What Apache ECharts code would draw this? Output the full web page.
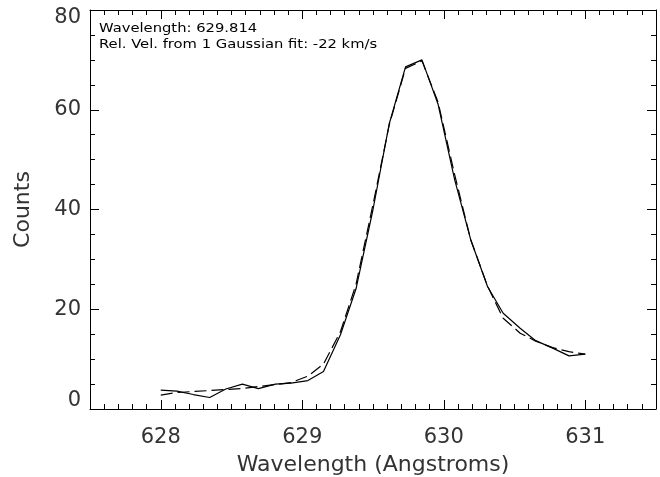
<!DOCTYPE html>
<html>
<head>
<meta charset="utf-8">
<script src="https://cdn.jsdelivr.net/npm/echarts@6/dist/echarts.min.js"></script>
<style>
html,body{margin:0;padding:0;background:#fff;}
#chart{width:660px;height:477px;}
</style>
</head>
<body>
<div id="chart"></div>
<script>
// Wavelength grid (Angstroms)
const wavelengths = [628.00, 628.115, 628.23, 628.346, 628.46, 628.577, 628.69, 628.81, 628.92, 629.04, 629.15, 629.27, 629.38, 629.50, 629.615, 629.73, 629.846, 629.96, 630.077, 630.19, 630.31, 630.42, 630.54, 630.65, 630.77, 630.885, 631.00];
// Observed counts (solid line)
const observedCounts = [3.8, 3.6, 2.9, 2.3, 4.0, 5.0, 4.1, 5.0, 5.2, 5.7, 7.5, 14.9, 24.1, 40.0, 57.2, 68.6, 70.0, 61.1, 46.0, 34.0, 24.5, 19.2, 16.2, 13.7, 12.2, 10.65, 11.0];
// Gaussian fit (dashed line)
const fitCounts = [2.8, 3.3, 3.5, 3.7, 3.9, 4.1, 4.5, 4.9, 5.3, 6.6, 9.0, 15.5, 25.0, 41.0, 57.0, 68.3, 69.8, 61.5, 47.0, 34.0, 24.6, 18.2, 15.2, 13.6, 12.3, 11.5, 11.0];
// Tick labels
const xTickLabels = [628, 629, 630, 631];
const yTickLabels = [0, 20, 40, 60, 80];
const annotationLines = ['Wavelength: 629.814', 'Rel. Vel. from 1 Gaussian fit: -22 km/s'];

const FONT = 'DejaVu Sans';
const TXT = '#333';
const xMin = 627.5, xMax = 631.5;

const chart = echarts.init(document.getElementById('chart'), null, {renderer: 'canvas'});

function pairs(xs, ys) { return xs.map((x, i) => [x, ys[i]]); }

function majorX(pos, showLabel) {
  return {
    type: 'value', position: pos, min: xMin, max: xMax, gridIndex: 0,
    axisLine: {show: true, onZero: false, lineStyle: {color: '#000', width: 1}},
    axisTick: {show: true, inside: true, length: 9, customValues: xTickLabels, lineStyle: {color: '#000'}},
    axisLabel: showLabel ? {show: true, customValues: xTickLabels, fontFamily: FONT, fontSize: 21, color: TXT, margin: 18} : {show: false},
    splitLine: {show: false},
    name: showLabel ? 'Wavelength (Angstroms)' : '',
    nameLocation: 'middle', nameGap: 45,
    nameTextStyle: {fontFamily: FONT, fontSize: 22, color: TXT}
  };
}
function minorX(pos) {
  return {
    type: 'value', position: pos, min: xMin, max: xMax, interval: 0.1, gridIndex: 0,
    axisLine: {show: false, onZero: false},
    axisTick: {show: true, inside: true, length: 5, lineStyle: {color: '#000'}},
    axisLabel: {show: false}, splitLine: {show: false}
  };
}
function yAx(pos, showLabel) {
  return {
    type: 'value', position: pos, min: 0, max: 80, interval: 20, gridIndex: 0,
    axisLine: {show: true, onZero: false, lineStyle: {color: '#000', width: 1}},
    axisTick: {show: true, inside: true, length: 9, lineStyle: {color: '#000'}},
    minorTick: {show: true, splitNumber: 4, length: 5, lineStyle: {color: '#000'}},
    axisLabel: showLabel ? {show: true, fontFamily: FONT, fontSize: 21, color: TXT, margin: 9, lineHeight: 16,
      verticalAlignMinLabel: 'bottom', verticalAlignMaxLabel: 'top'} : {show: false},
    splitLine: {show: false},
    name: showLabel ? 'Counts' : '',
    nameLocation: 'middle', nameGap: 56,
    nameTextStyle: {fontFamily: FONT, fontSize: 22, color: TXT}
  };
}

chart.setOption({
  animation: false,
  backgroundColor: '#fff',
  grid: {left: 90, right: 4, top: 10, bottom: 68, containLabel: false, outerBoundsMode: 'none'},
  xAxis: [majorX('bottom', true), minorX('bottom'), majorX('top', false), minorX('top')],
  yAxis: [yAx('left', true), yAx('right', false)],
  graphic: [
    {type: 'text', left: 99, top: 22, scaleX: 1.18, style: {text: annotationLines[0], fontFamily: FONT, fontSize: 12.5, fill: '#000'}},
    {type: 'text', left: 99, top: 38, scaleX: 1.18, style: {text: annotationLines[1], fontFamily: FONT, fontSize: 12.5, fill: '#000'}}
  ],
  series: [
    {type: 'line', xAxisIndex: 0, yAxisIndex: 0, data: pairs(wavelengths, observedCounts), showSymbol: false, symbol: 'none',
     lineStyle: {color: '#000', width: 1.2, type: 'solid'}, z: 3},
    {type: 'line', xAxisIndex: 0, yAxisIndex: 0, data: pairs(wavelengths, fitCounts), showSymbol: false, symbol: 'none',
     lineStyle: {color: '#000', width: 1.2, type: [12, 5]}, z: 2}
  ]
});
</script>
</body>
</html>
